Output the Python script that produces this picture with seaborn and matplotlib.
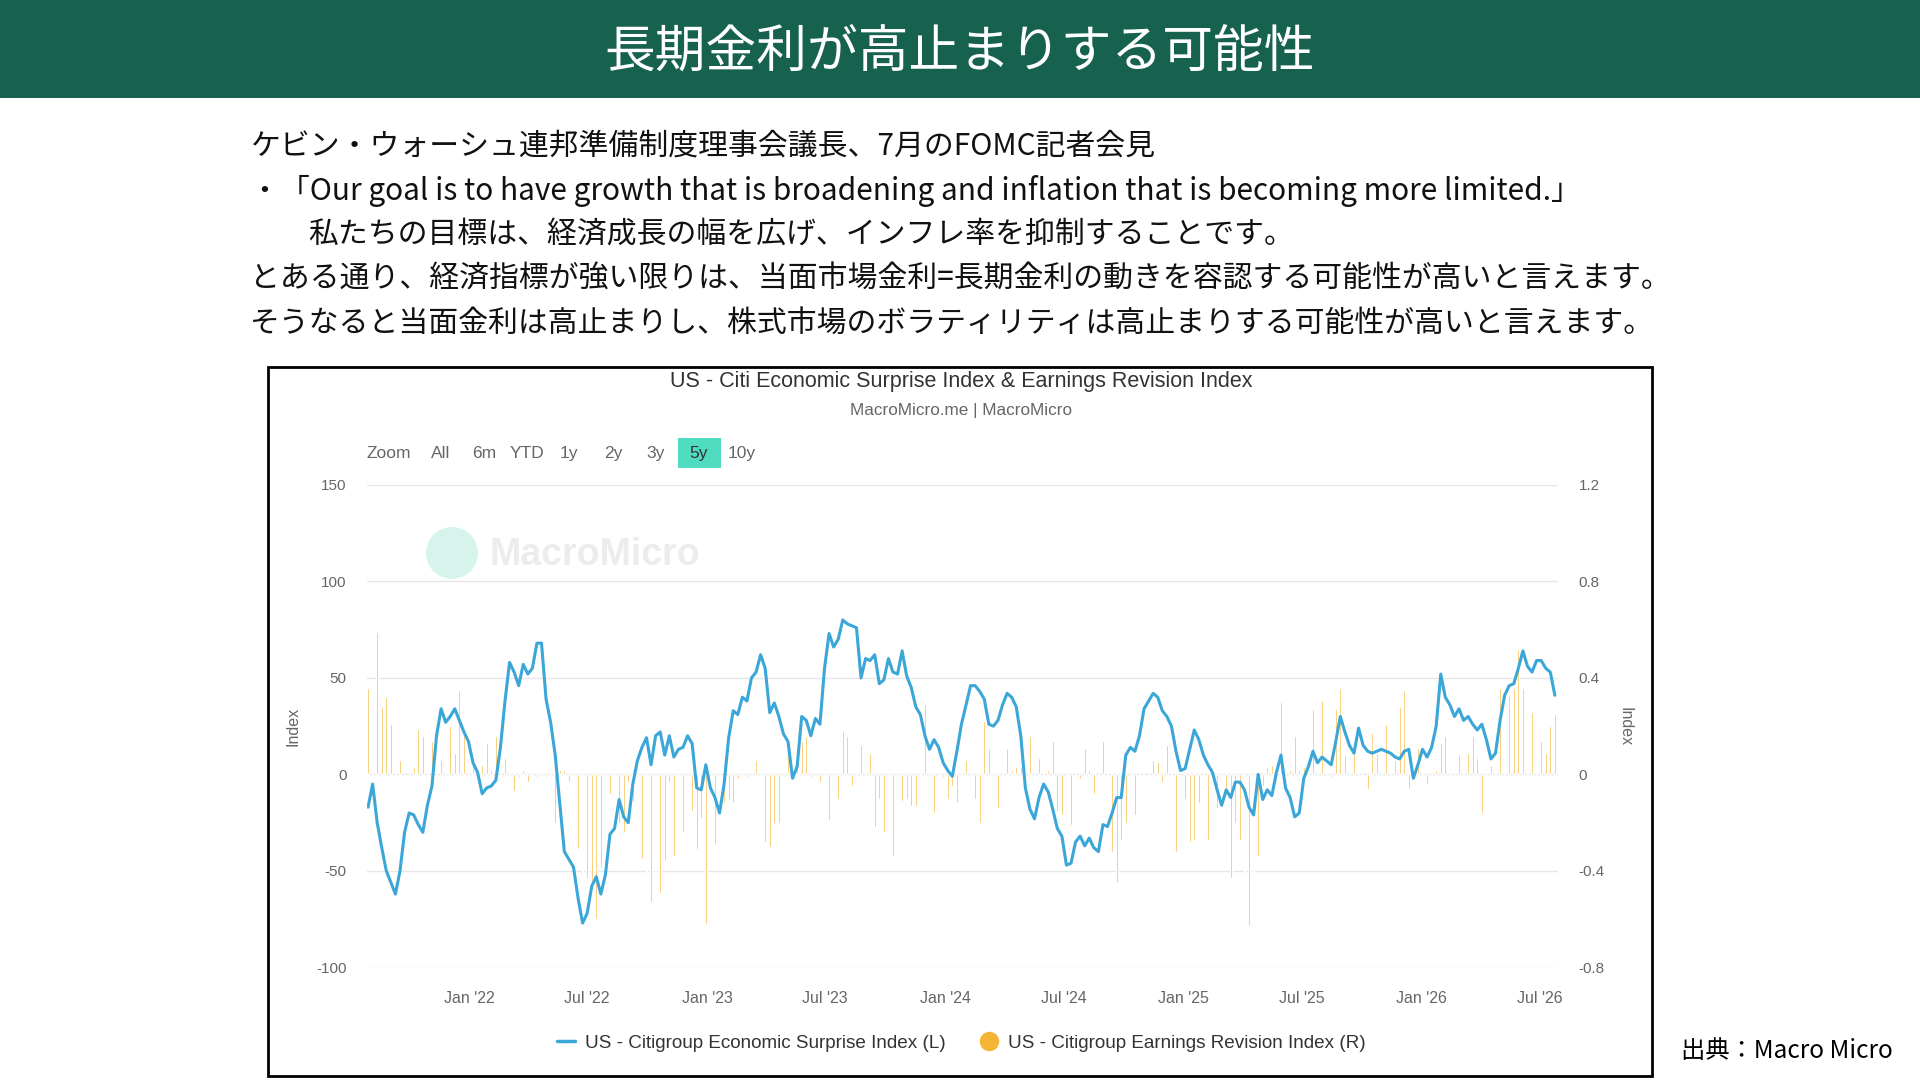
import matplotlib
matplotlib.use("Agg")
import matplotlib.pyplot as plt
import matplotlib.dates as mdates
from matplotlib.patches import Rectangle, Ellipse
from matplotlib.lines import Line2D
import seaborn as sns
import pandas as pd

# ---- data (one value per week) ----
start_date = "2021-07-30"

surprise_index = [
    -17, -5, -25, -38, -50, -56, -62, -50, -30, -20,
    -21, -26, -30, -16, -6, 20, 34, 27, 30, 34,
    28, 22, 17, 6, 1, -10, -7, -6, -3, 14,
    38, 58, 53, 46, 57, 52, 55, 68, 68, 39,
    27, 10, -15, -40, -44, -48, -64, -77, -72, -58,
    -53, -62, -52, -31, -28, -13, -22, -25, -5, 7,
    14, 19, 5, 20, 22, 10, 20, 9, 13, 14,
    20, 16, -7, -8, 5, -7, -12, -20, -5, 19,
    33, 31, 40, 38, 50, 53, 62, 55, 32, 37,
    30, 21, 17, -2, 4, 30, 28, 20, 29, 26,
    55, 73, 66, 70, 80, 78, 77, 76, 50, 60,
    59, 62, 47, 49, 60, 53, 52, 64, 51, 45,
    35, 31, 20, 13, 18, 14, 6, 2, -1, 12,
    26, 36, 46, 46, 43, 39, 26, 25, 28, 36,
    42, 40, 35, 20, -7, -18, -23, -12, -5, -9,
    -18, -28, -32, -47, -46, -35, -32, -37, -33, -38,
    -40, -26, -27, -20, -12, -12, 10, 14, 12, 20,
    34, 38, 42, 40, 33, 30, 25, 12, 2, 3,
    13, 23, 18, 10, 5, 1, -8, -16, -8, -12,
    -4, -4, -8, -17, -21, 0, -13, -8, -11, 1,
    10, -7, -12, -22, -20, -2, 4, 12, 6, 9,
    7, 5, 17, 30, 22, 15, 11, 24, 15, 12,
    11, 12, 13, 12, 11, 9, 8, 12, 13, -2,
    5, 13, 9, 14, 25, 52, 40, 36, 30, 34,
    28, 30, 26, 23, 26, 18, 8, 11, 28, 41,
    46, 47, 55, 64, 56, 53, 59, 59, 55, 53,
    41,
]

revision_index = [
    0.36, 0.30, 0.59, 0.28, 0.32, 0.21, 0.09, 0.06, 0.00, 0.00,
    0.03, 0.19, 0.16, 0.11, 0.14, 0.30, 0.06, 0.23, 0.20, 0.09,
    0.35, 0.18, 0.13, 0.06, 0.04, 0.04, 0.13, 0.02, 0.16, -0.13,
    0.07, 0.08, -0.07, -0.01, 0.02, -0.03, -0.06, -0.01, 0.04, -0.01,
    -0.15, -0.20, 0.02, 0.02, -0.03, -0.10, -0.31, -0.47, -0.43, -0.46,
    -0.60, -0.39, -0.25, -0.08, -0.14, -0.20, -0.24, -0.03, -0.11, -0.12,
    -0.35, -0.48, -0.53, -0.57, -0.49, -0.36, -0.03, -0.34, -0.04, -0.24,
    0.06, -0.15, -0.31, -0.18, -0.62, -0.29, -0.29, -0.28, -0.12, -0.10,
    -0.12, -0.02, -0.20, -0.01, 0.07, 0.06, -0.24, -0.28, -0.30, -0.20,
    -0.20, 0.17, 0.14, -0.03, 0.04, 0.14, 0.16, -0.01, -0.17, -0.03,
    -0.20, -0.19, -0.18, -0.10, 0.18, 0.16, -0.05, 0.08, 0.12, 0.22,
    0.09, -0.22, -0.10, -0.24, -0.31, -0.34, -0.35, -0.11, -0.10, -0.13,
    -0.13, -0.17, 0.29, 0.07, -0.16, -0.11, -0.01, -0.10, -0.05, -0.12,
    -0.08, 0.06, 0.05, -0.10, -0.20, 0.22, 0.11, 0.06, -0.14, 0.02,
    0.11, 0.02, 0.03, 0.03, 0.03, 0.16, 0.03, 0.07, 0.10, 0.02,
    0.14, -0.15, -0.17, -0.08, -0.21, -0.07, -0.02, 0.11, 0.02, -0.08,
    -0.11, 0.14, -0.08, -0.32, -0.45, -0.27, -0.20, -0.16, -0.17, -0.16,
    0.00, -0.04, 0.06, 0.05, -0.03, 0.12, -0.03, -0.32, 0.00, -0.10,
    -0.28, -0.27, -0.12, -0.15, -0.27, -0.11, -0.14, -0.15, -0.08, -0.43,
    -0.20, -0.27, -0.53, -0.63, -0.63, -0.34, -0.05, 0.03, 0.04, 0.11,
    0.30, 0.16, 0.02, 0.16, 0.02, 0.03, 0.23, 0.27, 0.21, 0.31,
    0.21, -0.01, 0.27, 0.36, 0.08, 0.09, 0.11, 0.05, 0.00, -0.06,
    0.17, 0.09, 0.13, 0.21, 0.16, 0.06, 0.28, 0.35, -0.06, -0.02,
    0.11, -0.08, -0.04, -0.06, 0.02, 0.13, 0.16, 0.01, 0.04, 0.08,
    0.23, 0.09, 0.16, 0.07, -0.16, -0.08, 0.04, 0.24, 0.36, 0.35,
    0.33, 0.36, 0.52, 0.36, 0.24, 0.26, 0.32, 0.14, 0.09, 0.20,
    0.25,
]

left_ticks = [-100, -50, 0, 50, 100, 150]
right_ticks = [-0.8, -0.4, 0, 0.4, 0.8, 1.2]
right_tick_labels = ["-0.8", "-0.4", "0", "0.4", "0.8", "1.2"]
x_tick_dates = ["2022-01-01", "2022-07-01", "2023-01-01", "2023-07-01", "2024-01-01",
                "2024-07-01", "2025-01-01", "2025-07-01", "2026-01-01", "2026-07-01"]
range_buttons = ["Zoom", "All", "6m", "YTD", "1y", "2y", "3y", "5y", "10y"]

title = "長期金利が高止まりする可能性"
body_lines = [
    "ケビン・ウォーシュ連邦準備制度理事会議長、7月のFOMC記者会見",
    "・「Our goal is to have growth that is broadening and inflation that is becoming more limited.」",
    "私たちの目標は、経済成長の幅を広げ、インフレ率を抑制することです。",
    "とある通り、経済指標が強い限りは、当面市場金利=長期金利の動きを容認する可能性が高いと言えます。",
    "そうなると当面金利は高止まりし、株式市場のボラティリティは高止まりする可能性が高いと言えます。",
]
chart_title = "US - Citi Economic Surprise Index & Earnings Revision Index"
chart_sub = "MacroMicro.me | MacroMicro"
label_line = "US - Citigroup Economic Surprise Index (L)"
label_bar = "US - Citigroup Earnings Revision Index (R)"
source = "出典：Macro Micro"

df = pd.DataFrame({
    "date": pd.date_range(start_date, periods=len(surprise_index), freq="7D"),
    "surprise": surprise_index,
    "revision": revision_index,
})

# ---- style ----
sns.set_theme(style="white")
plt.rcParams["font.family"] = ["Noto Sans CJK JP", "DejaVu Sans"]
CHART_FONT = ["Liberation Sans", "DejaVu Sans"]
GREEN = "#17614f"
BLUE = "#3ba7d8"
ORANGE = "#f5b436"
GREY = "#666666"

W, H = 1920, 1080


def fx(px):
    return px / W


def fy(py):
    return 1 - py / H


fig = plt.figure(figsize=(19.2, 10.8), dpi=100)
fig.patch.set_facecolor("white")

# header band
fig.add_artist(Rectangle((0, fy(98)), 1, 98 / H, transform=fig.transFigure,
                         facecolor=GREEN, edgecolor="none"))
fig.text(0.5, fy(54), title, color="white", fontsize=36.5, ha="center", va="center")

# body text
line_y = [146, 191, 234, 279, 323]
line_x = [250, 250, 308, 250, 250]
for txt, x, y in zip(body_lines, line_x, line_y):
    fig.text(fx(x), fy(y), txt, fontsize=21.5, color="#111111", ha="left", va="center")

# chart frame
fig.add_artist(Rectangle((fx(268), fy(1076)), (1652 - 268) / W, (1076 - 367) / H,
                         transform=fig.transFigure, fill=False, edgecolor="black", lw=2))

fig.text(fx(961), fy(381), chart_title, family=CHART_FONT, fontsize=15.5,
         color="#333333", ha="center", va="center")
fig.text(fx(961), fy(410), chart_sub, family=CHART_FONT, fontsize=12.3,
         color=GREY, ha="center", va="center")

# range selector
btn_x = [389, 441, 484, 527, 569, 613, 656, 699, 742]
for name, x in zip(range_buttons, btn_x):
    if name == "5y":
        fig.add_artist(Rectangle((fx(678), fy(468)), 43 / W, 30 / H,
                                 transform=fig.transFigure,
                                 facecolor="#4fdcc0", edgecolor="none"))
    fig.text(fx(x), fy(453), name, family=CHART_FONT, fontsize=12.5,
             color="#333333" if name == "5y" else GREY, ha="center", va="center")

# main axes
ax2 = fig.add_axes([fx(367.4), fy(967.4), (1557.6 - 367.4) / W, (967.4 - 484.9) / H])
ax = ax2.twinx()
ax.yaxis.tick_left()
ax.yaxis.set_label_position("left")
ax2.yaxis.tick_right()
ax2.yaxis.set_label_position("right")
ax.set_zorder(ax2.get_zorder() + 1)
ax.patch.set_visible(False)

ax2.bar(df["date"], df["revision"], width=2.6, color=ORANGE, zorder=2)
sns.lineplot(data=df, x="date", y="surprise", ax=ax, color=BLUE, lw=2.2)

x0 = df["date"].iloc[0] - pd.Timedelta(days=1)
x1 = df["date"].iloc[0] + pd.Timedelta(weeks=260.6)
ax2.set_xlim(x0, x1)
ax.set_xlim(x0, x1)
ax.set_ylim(-100, 150)
ax2.set_ylim(-0.8, 1.2)

ax.set_yticks(left_ticks)
ax.set_yticklabels([str(v) for v in left_ticks])
ax2.set_yticks(right_ticks)
ax2.set_yticklabels(right_tick_labels)
ax2.grid(True, axis="y", color="#e6e6e6", lw=1)
ax2.grid(False, axis="x")
ax.grid(False)
ax2.set_axisbelow(True)

ticks = pd.to_datetime(x_tick_dates)
for a in (ax, ax2):
    a.set_xticks(ticks)
    a.xaxis.set_major_formatter(mdates.DateFormatter("%b '%y"))
    for s in a.spines.values():
        s.set_visible(False)
ax.tick_params(axis="x", length=0, labelbottom=False)
ax2.tick_params(axis="x", length=9, width=1, color="#ccd6eb", pad=8,
                labelsize=11.5, labelcolor=GREY)
ax.tick_params(axis="y", length=0, pad=15, labelsize=11, labelcolor=GREY)
ax2.tick_params(axis="y", length=0, pad=15, labelsize=11, labelcolor=GREY)
for lab in ax.get_yticklabels() + ax2.get_yticklabels() + ax2.get_xticklabels():
    lab.set_family(CHART_FONT)

ax.set_xlabel("")
ax2.set_xlabel("")
ax.set_ylabel("Index", family=CHART_FONT, fontsize=11.5, color=GREY, labelpad=11)
ax2.set_ylabel("Index", family=CHART_FONT, fontsize=11.5, color=GREY, rotation=270,
               labelpad=20)

# watermark
fig.add_artist(Ellipse((fx(452), fy(553)), 52 / W, 52 / H, transform=fig.transFigure,
                       facecolor="#d6f4ec", edgecolor="none"))
fig.text(fx(490), fy(555), "MacroMicro", family=CHART_FONT, fontsize=27,
         fontweight="bold", color="#ececec", ha="left", va="center")

# legend
handles = [
    Line2D([], [], color=BLUE, lw=2.5),
    Line2D([], [], marker="o", color="none", markerfacecolor=ORANGE,
           markeredgecolor=ORANGE, markersize=13),
]
fig.legend(handles, [label_line, label_bar], loc="center",
           bbox_to_anchor=(fx(961), fy(1043)), ncol=2, frameon=False,
           prop={"family": CHART_FONT, "size": 13.6}, labelcolor="#333333",
           handlelength=1.0, handletextpad=0.5, columnspacing=1.8)

fig.text(fx(1681), fy(1051), source, fontsize=17.5, color="black", ha="left", va="center")

fig.savefig("out.png", dpi=100)
